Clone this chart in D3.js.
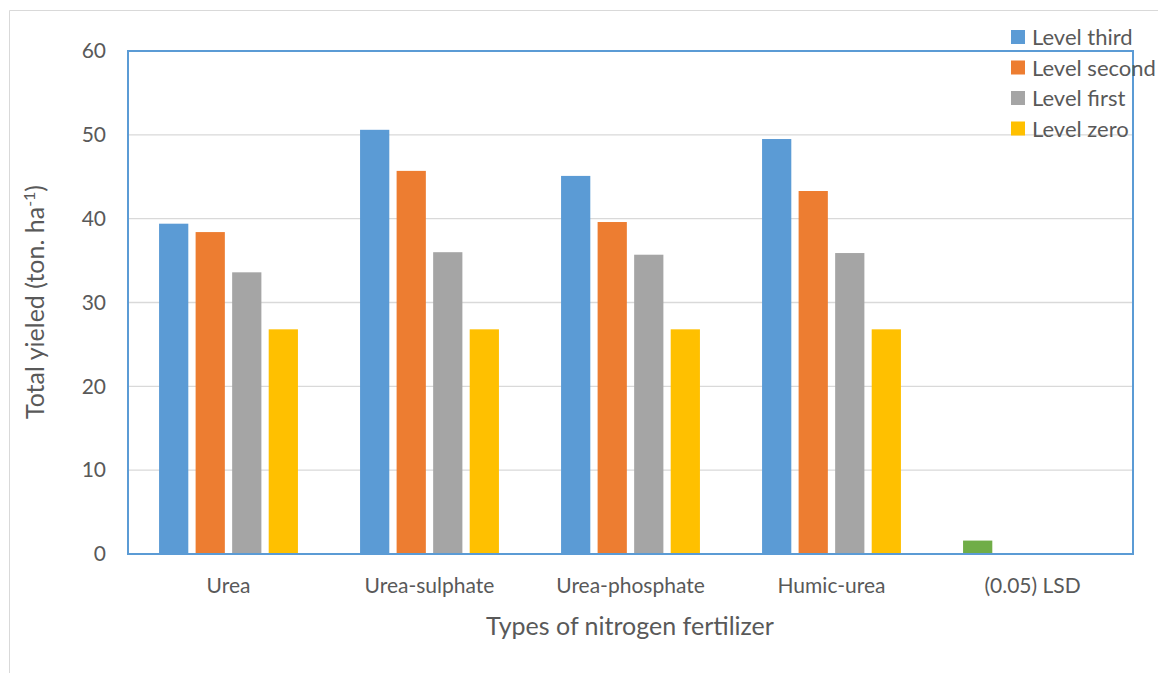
<!DOCTYPE html>
<html>
<head>
<meta charset="utf-8">
<script src="https://cdn.jsdelivr.net/npm/d3@7"></script>
<style>
  html, body { margin: 0; padding: 0; background: #fff; }
  svg { display: block; font-family: Lato, "Open Sans", sans-serif; }
</style>
</head>
<body>
<svg id="chart" width="1158" height="673"></svg>
<script>
const categories = ["Urea", "Urea-sulphate", "Urea-phosphate", "Humic-urea", "(0.05) LSD"];
const seriesNames = ["Level third", "Level second", "Level first", "Level zero"];
const levelThird  = [39.4, 50.6, 45.1, 49.5, 1.6];
const levelSecond = [38.4, 45.7, 39.6, 43.3, null];
const levelFirst  = [33.6, 36.0, 35.7, 35.9, null];
const levelZero   = [26.8, 26.8, 26.8, 26.8, null];
const yTicks = [0, 10, 20, 30, 40, 50, 60];
const colors = ["#5b9bd5", "#ed7d31", "#a5a5a5", "#ffc000"];
const lsdColor = "#70ad47";

const series = [levelThird, levelSecond, levelFirst, levelZero];

const svg = d3.select("#chart");
const W = 1158, H = 673;
const plot = { left: 128, right: 1133, top: 51, bottom: 554 };

// outer frame
svg.append("path")
  .attr("d", `M9.5,${H} V10.5 H${W}`)
  .attr("fill", "none").attr("stroke", "#d9d9d9").attr("stroke-width", 1);

const x0 = d3.scaleBand().domain(categories).range([plot.left, plot.right]).paddingInner(0).paddingOuter(0);
const x1 = d3.scaleBand().domain(seriesNames).range([0, x0.bandwidth()]).paddingInner(0.2).paddingOuter(0.85);
const y = d3.scaleLinear().domain([0, 60]).range([plot.bottom, plot.top]);

// gridlines
svg.append("g").selectAll("line").data(yTicks.filter(t => t > 0 && t < 60)).join("line")
  .attr("x1", plot.left).attr("x2", plot.right)
  .attr("y1", d => y(d)).attr("y2", d => y(d))
  .attr("stroke", "#d9d9d9").attr("stroke-width", 1.3);

// bars
const groups = svg.append("g").selectAll("g").data(categories).join("g")
  .attr("transform", d => `translate(${x0(d)},0)`);
groups.each(function(cat, ci) {
  const g = d3.select(this);
  series.forEach((vals, si) => {
    const v = vals[ci];
    if (v == null) return;
    const isLsd = cat === "(0.05) LSD";
    g.append("rect")
      .attr("x", x1(seriesNames[si]))
      .attr("width", x1.bandwidth())
      .attr("y", y(v))
      .attr("height", y(0) - y(v))
      .attr("fill", isLsd ? lsdColor : colors[si]);
  });
});

// plot border
svg.append("rect")
  .attr("x", plot.left).attr("y", plot.top)
  .attr("width", plot.right - plot.left).attr("height", plot.bottom - plot.top)
  .attr("fill", "none").attr("stroke", "#5b9bd5").attr("stroke-width", 2);

// y axis labels
const yAxis = d3.axisLeft(y).tickValues(yTicks).tickSize(0).tickPadding(22);
const ya = svg.append("g").attr("transform", `translate(${plot.left},0)`).call(yAxis);
ya.select(".domain").remove();
ya.selectAll("text").attr("font-size", 21).attr("fill", "#595959").attr("font-family", "Lato, sans-serif");

// x axis labels
const xAxis = d3.axisBottom(x0).tickSize(0).tickPadding(24);
const xa = svg.append("g").attr("transform", `translate(0,${plot.bottom})`).call(xAxis);
xa.select(".domain").remove();
xa.selectAll("text").attr("font-size", 21).attr("fill", "#595959").attr("font-family", "Lato, sans-serif");

// axis titles
svg.append("text")
  .attr("x", 630).attr("y", 635)
  .attr("text-anchor", "middle").attr("font-size", 25).attr("fill", "#595959")
  .text("Types of nitrogen fertilizer");

const yt = svg.append("text")
  .attr("transform", "translate(44,302) rotate(-90)")
  .attr("text-anchor", "middle").attr("font-size", 25).attr("fill", "#595959");
yt.append("tspan").text("Total yieled (ton. ha");
yt.append("tspan").attr("dy", -9).attr("font-size", 16).text("-1");
yt.append("tspan").attr("dy", 9).text(")");

// legend
const leg = svg.append("g");
seriesNames.forEach((name, i) => {
  const yy = 37 + i * 30.5;
  leg.append("rect").attr("x", 1011).attr("y", yy - 7).attr("width", 14).attr("height", 14).attr("fill", colors[i]);
  leg.append("text").attr("x", 1032).attr("y", yy + 8).attr("font-size", 22).attr("fill", "#595959").text(name);
});
</script>
</body>
</html>
